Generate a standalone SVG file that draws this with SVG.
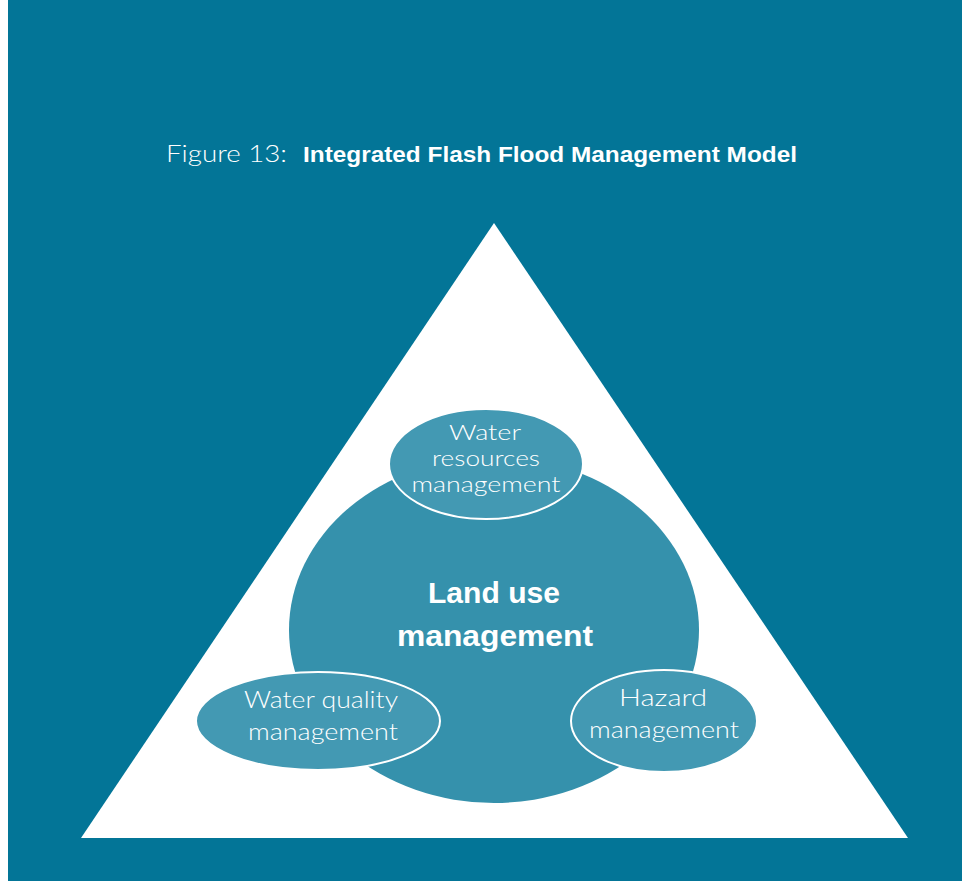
<svg xmlns="http://www.w3.org/2000/svg" width="962" height="881" viewBox="0 0 962 881">
<style>
.bg{fill:#037597}
.big{fill:#3591ac}
.small{fill:#4399b3;stroke:#ffffff;stroke-width:2}
.t{fill:#ffffff;font-family:"Lato","Liberation Sans",sans-serif;font-weight:300;font-size:24px;text-anchor:middle}
.tt{font-size:21px}
.b{fill:#ffffff;font-family:"Liberation Sans",sans-serif;font-weight:bold;font-size:30px;text-anchor:middle}
</style>
<rect x="0" y="0" width="962" height="881" fill="#ffffff"/>
<rect class="bg" x="8" y="0" width="954" height="881"/>
<text x="166" y="162" fill="#ffffff" font-family="Lato, 'Liberation Sans', sans-serif" font-weight="300" font-size="23" textLength="121" lengthAdjust="spacingAndGlyphs">Figure 13:</text>
<text x="303" y="162" fill="#ffffff" font-family="'Liberation Sans', sans-serif" font-weight="bold" font-size="22" textLength="494" lengthAdjust="spacingAndGlyphs">Integrated Flash Flood Management Model</text>
<polygon points="494,223 908,838 81,838" fill="#ffffff"/>
<g id="land-use">
<ellipse class="big" cx="494" cy="630" rx="205" ry="173"/>
<text class="b" x="494" y="603" textLength="132" lengthAdjust="spacingAndGlyphs">Land use</text>
<text class="b" x="495" y="646" textLength="196" lengthAdjust="spacingAndGlyphs">management</text>
</g>
<g id="water-resources">
<ellipse class="small" cx="486" cy="464" rx="97" ry="55"/>
<text class="t tt" x="485" y="440" textLength="72" lengthAdjust="spacingAndGlyphs">Water</text>
<text class="t tt" x="486" y="466" textLength="108" lengthAdjust="spacingAndGlyphs">resources</text>
<text class="t tt" x="486" y="492" textLength="149" lengthAdjust="spacingAndGlyphs">management</text>
</g>
<g id="water-quality">
<ellipse class="small" cx="318" cy="721" rx="122" ry="49"/>
<text class="t" x="321" y="708" textLength="154" lengthAdjust="spacingAndGlyphs">Water quality</text>
<text class="t" x="323" y="740" textLength="150" lengthAdjust="spacingAndGlyphs">management</text>
</g>
<g id="hazard">
<ellipse class="small" cx="664" cy="721" rx="93" ry="51"/>
<text class="t" x="663" y="706" textLength="88" lengthAdjust="spacingAndGlyphs">Hazard</text>
<text class="t" x="664" y="738" textLength="150" lengthAdjust="spacingAndGlyphs">management</text>
</g>
<g id="connectors"></g>
</svg>
